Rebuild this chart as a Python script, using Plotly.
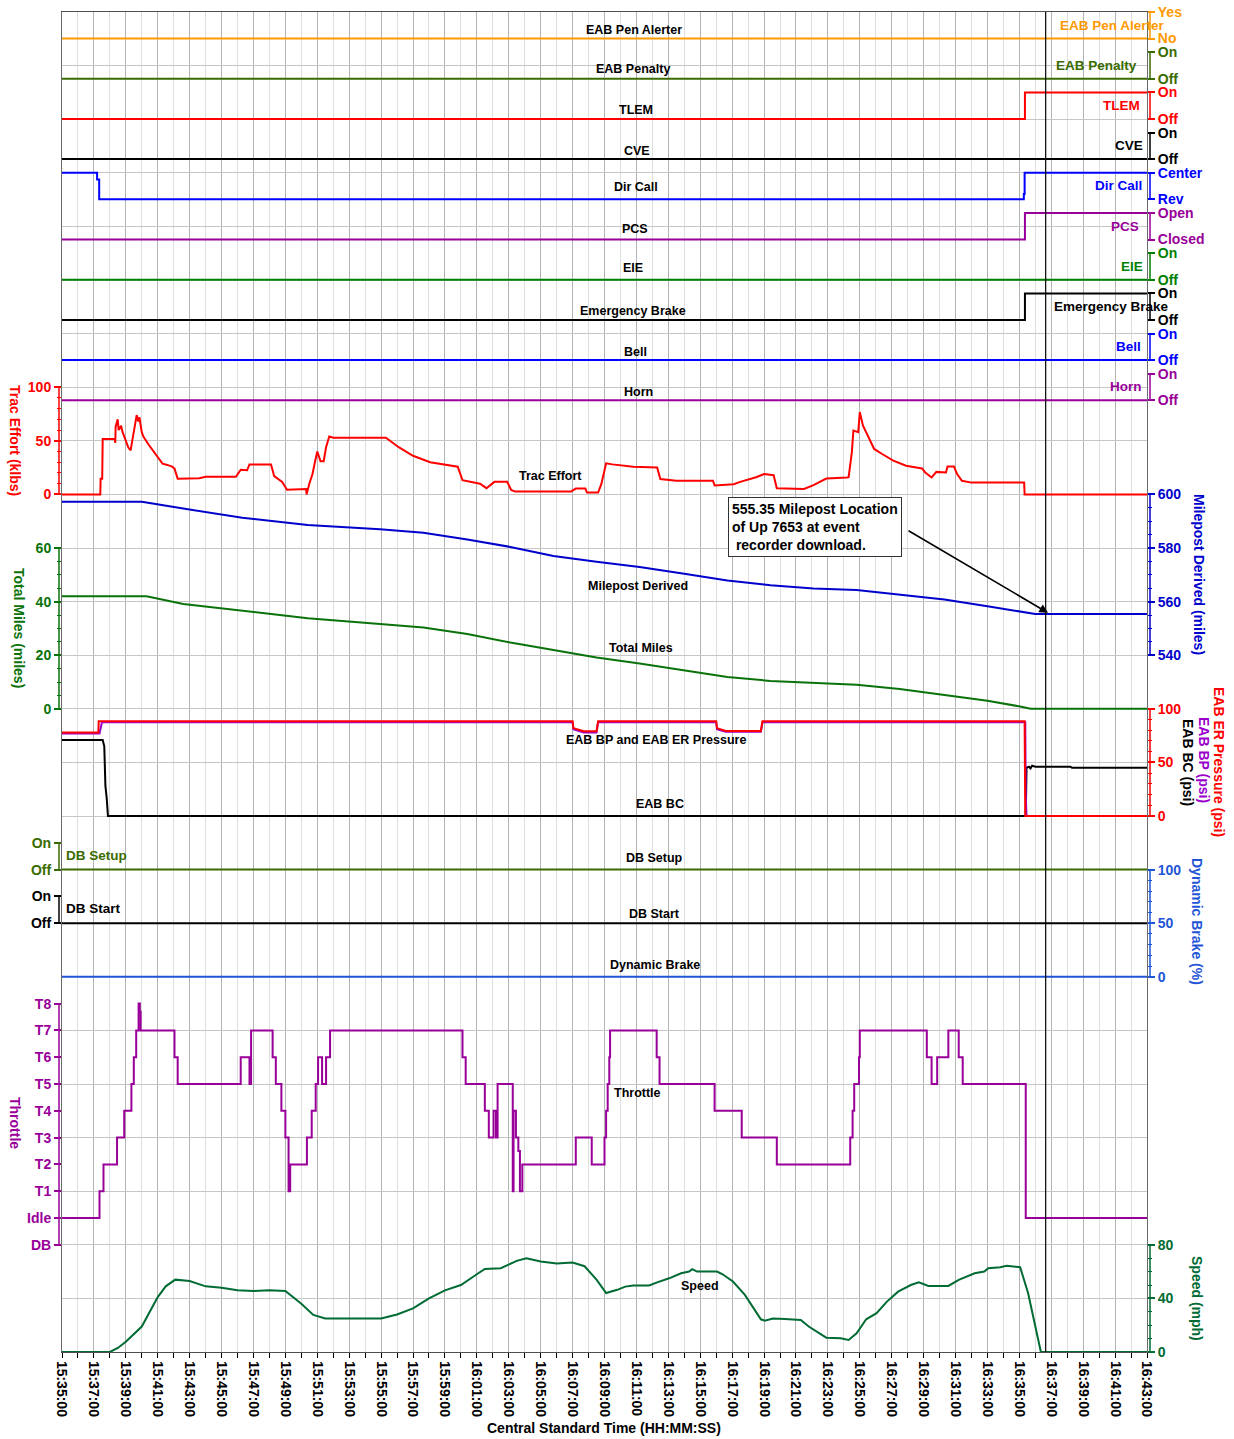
import pandas as pd
import plotly.graph_objects as go

# ---------------- data (times are minutes after 15:35:00 CST) ----------------
START = pd.Timestamp("2024-01-01 15:35:00")
END_MIN = 68
MARKER_MIN = 61.65          # event-recorder download marker line

# digital signals (state 0/1, step after each time)
pen_alerter_t = [0, 68];            pen_alerter_v = [0, 0]
eab_penalty_t = [0, 68];            eab_penalty_v = [0, 0]
tlem_t = [0, 60.35, 68];            tlem_v = [0, 1, 1]
cve_t = [0, 68];                    cve_v = [0, 0]
dircall_t = [0, 2.2, 2.33, 60.28, 60.33, 68]
dircall_v = [1, 0.75, 0, 0.2, 1, 1]
pcs_t = [0, 60.35, 68];             pcs_v = [0, 1, 1]
eie_t = [0, 68];                    eie_v = [0, 0]
ebrake_t = [0, 60.35, 68];          ebrake_v = [0, 1, 1]
bell_t = [0, 68];                   bell_v = [0, 0]
horn_t = [0, 68];                   horn_v = [0, 0]
db_setup_t = [0, 68];               db_setup_v = [0, 0]
db_start_t = [0, 68];               db_start_v = [0, 0]

# Trac effort (klbs)
trac_t = [0, 2.4, 2.42, 2.52, 2.55, 3.3, 3.34, 3.36, 3.49, 3.55,
          3.7, 3.8, 3.95, 4.15, 4.3, 4.45, 4.55, 4.68, 4.78, 4.85,
          5.0, 5.1, 5.4, 5.7, 6.0, 6.3, 6.6, 6.9, 7.05, 7.25,
          8.6, 9.0, 10.9, 11.2, 11.6, 11.75, 13.1, 13.3, 13.8, 14.1,
          15.3, 15.33, 15.5, 15.7, 15.85, 16.0, 16.2, 16.4, 16.55, 16.75,
          17.0, 20.3, 21.1, 22.0, 23.07, 24.1, 24.8, 25.1, 26.2, 26.6,
          27.1, 27.9, 28.15, 28.4, 31.9, 32.2, 32.8, 32.9, 33.6, 33.8,
          34.1, 34.5, 35.8, 37.3, 37.5, 38.5, 40.8, 40.9, 42.1, 42.5,
          43.5, 44.0, 44.6, 44.8, 46.5, 47.1, 47.9, 49.2, 49.3, 49.5,
          49.6, 49.9, 50.0, 50.2, 50.5, 50.9, 51.4, 52.1, 52.9, 53.9,
          54.1, 54.5, 54.8, 55.4, 55.5, 55.9, 56.1, 56.4, 57.0, 60.3,
          60.33, 68]
trac_v = [0, 0, 14.7, 14.7, 51.6, 51.6, 48, 63, 70, 60,
          64, 58, 52, 44, 41, 55, 62, 74, 68, 72,
          58, 54, 47, 41, 34, 28.7, 27.5, 26, 24, 14.7,
          15, 16.5, 16.5, 23, 22.5, 28, 28, 17, 11.6, 4.4,
          5, 0, 10, 19, 30, 40, 31, 31, 44, 54,
          52.8, 52.8, 44, 36, 30, 27.7, 25.8, 13.3, 10, 5.8,
          11.7, 11.7, 4.2, 2.6, 2.6, 5.4, 5.4, 1.7, 1.7, 9.5,
          29, 28, 25.8, 25.2, 14.3, 12.7, 12.7, 8.3, 9.5, 11.7,
          16, 19, 17.9, 5.8, 5.1, 8.6, 14.8, 15.7, 16, 39,
          59.6, 58, 76.8, 64, 55, 42.4, 37.7, 31.5, 26.8, 24.2,
          20.5, 15.8, 21, 20.5, 26, 26, 19, 12.7, 11, 11,
          0, 0]

# Milepost derived (miles)
milepost_t = [0, 5.0, 7.6, 11.3, 15.4, 19.93, 22.65, 25.4, 28.1, 30.8, 33.5,
              36.2, 39.0, 41.7, 44.4, 47.1, 49.8, 52.5, 55.3, 58.0, 60.7, 61.0, 68]
milepost_v = [597.3, 597.3, 594.7, 591.3, 588.6, 587.0, 585.7, 583.2, 580.4, 577.0, 574.9,
              572.9, 570.4, 567.9, 566.1, 564.9, 564.3, 562.7, 560.8, 558.3, 555.4, 555.35, 555.35]

# Total miles
total_t = [0, 5.3, 7.6, 11.3, 15.4, 19.93, 22.65, 25.4, 28.1, 30.8, 33.5,
           36.2, 39.0, 41.7, 44.4, 47.1, 49.8, 52.5, 55.3, 58.0, 60.2, 60.7, 68]
total_v = [42.0, 42.0, 39.1, 36.6, 33.8, 31.6, 30.3, 27.9, 24.7, 21.9, 19.1,
           16.9, 14.4, 11.9, 10.4, 9.6, 9.0, 7.4, 5.2, 3.0, 0.7, 0, 0]

# EAB pressures (psi)
er_t = [0, 2.28, 2.3, 32.0, 32.05, 32.7, 33.5, 33.6, 41.0, 41.05, 41.6, 43.8, 43.9, 60.33, 60.37, 68]
er_v = [78, 78, 88.5, 88.5, 82, 79, 79, 88.5, 88.5, 82, 79.4, 79.4, 88.5, 88.5, 0, 0]
bp_t = [0, 2.35, 2.5, 32.0, 32.05, 32.7, 33.5, 33.6, 41.0, 41.05, 41.6, 43.8, 43.9, 60.37, 60.4, 60.45, 68]
bp_v = [77, 77, 87.5, 87.5, 81, 78, 78, 87.5, 87.5, 81, 78.5, 78.5, 87.5, 87.5, 20, 0, 0]
bc_t = [0, 2.55, 2.65, 2.72, 2.8, 2.88, 60.4, 60.45, 60.6, 60.7, 60.8, 61.0, 63.2, 63.3, 68]
bc_v = [71, 71, 65, 28, 17, 0, 0, 45, 46, 44.5, 47, 46, 46, 45, 45]

# Dynamic brake (%)
dynbrake_t = [0, 68];   dynbrake_v = [0, 0]

# Throttle notch (0=DB, 1=Idle, 2=T1 ... 9=T8), step after each time
throttle_labels = ["DB", "Idle", "T1", "T2", "T3", "T4", "T5", "T6", "T7", "T8"]
throttle_t = [0, 2.35, 2.6, 3.45, 3.9, 4.35, 4.5, 4.65, 4.8, 4.88, 4.93, 7.05, 7.25, 11.2,
              11.75, 11.85, 13.2, 13.4, 13.75, 14.0, 14.2, 14.3, 15.35, 15.65, 15.9, 16.05,
              16.3, 16.55, 16.8, 25.1, 25.3, 26.5, 26.75, 27.05, 27.2, 27.3, 28.25, 28.3,
              28.45, 28.6, 28.7, 28.85, 32.2, 33.2, 34.0, 34.1, 34.2, 34.3, 34.35, 37.27,
              37.45, 40.9, 42.6, 44.8, 49.4, 49.55, 49.65, 49.95, 50.0, 54.2, 54.5, 54.85,
              55.55, 56.2, 56.45, 60.4, 68]
throttle_v = [1, 2, 3, 4, 5, 6, 7, 8, 9, 8.7, 8, 7, 6, 7,
              6, 8, 7, 6, 5, 4, 2, 3, 4, 5, 6, 7,
              6, 7, 8, 7, 6, 5, 4, 5, 4, 6, 2, 5,
              4, 3.5, 2, 3, 4, 3, 4, 5, 6, 7, 8, 7,
              6, 5, 4, 3, 4, 5, 6, 7, 8, 7, 6, 7,
              8, 7, 6, 1, 1]

# Speed (mph)
speed_t = [0, 3.0, 3.5, 4.0, 5.0, 6.0, 6.5, 7.1, 8.0, 9.0,
           10.0, 11.0, 12.0, 13.0, 14.0, 15.0, 15.75, 16.5, 20.0, 21.0,
           22.0, 23.0, 24.0, 25.0, 26.0, 26.5, 27.5, 28.5, 29.1, 30.0,
           31.0, 32.0, 32.75, 33.5, 34.1, 34.8, 35.3, 35.8, 36.8, 37.3,
           38.05, 38.8, 39.3, 39.5, 39.8, 41.05, 41.4, 42.05, 42.8, 43.4,
           43.8, 44.05, 44.55, 45.3, 46.3, 46.8, 47.3, 47.9, 48.8, 49.3,
           49.8, 50.4, 51.05, 51.7, 52.4, 53.2, 53.7, 54.3, 55.55, 56.2,
           57.2, 57.8, 58.05, 58.8, 59.2, 60.05, 60.55, 60.9, 61.35, 68]
speed_v = [0, 0, 3, 7.7, 19, 41, 49, 54, 53, 49,
           48, 46, 45.6, 46, 45.6, 36, 27.7, 25, 25, 28,
           32.6, 40, 46, 50, 58, 62, 62.5, 68, 70, 67.5,
           66, 66.8, 64, 54, 44, 46.4, 48.8, 49.6, 49.6, 52,
           55, 58.8, 60, 61.8, 60, 60, 58, 52.6, 42.6, 31.9,
           24.4, 23.4, 25, 24.7, 23.9, 19, 15.2, 10.7, 10.2, 9,
           14, 24.4, 29, 37.6, 45, 50, 52, 49.3, 49.3, 53.8,
           58.8, 60, 62.5, 63.3, 64.3, 63.3, 43.9, 25, 0, 0]

milepost_note = "555.35 Milepost Location<br>of Up 7653 at event<br> recorder download."
note_target_min = 61.8
note_target_mp = 555.8

# ---------------- layout helpers ----------------
FONT = "Liberation Sans, Arial, sans-serif"
W, H = 1234, 1439
L, R, T, B = 62, 87, 12, 87
PW, PH = W - L - R, H - T - B
GRID = PH / 25.0

ORANGE = "#FF9900"; OLIVE = "#3A6B00"; RED = "#FF0000"; BLUE = "#0000FF"
PURPLE = "#990099"; GREEN = "#008000"; MPBLUE = "#0000CC"; TMGREEN = "#0A720A"
BPPURPLE = "#9900CC"; DBBLUE = "#1F55D6"; SPGREEN = "#006B33"


def fx(p):
    return (p - L) / PW


def fy(p):
    return (T + PH - p) / PH


def gy(i):
    return T + i * GRID


def rng(v_a, p_a, v_b, p_b):
    k = (v_b - v_a) / (p_b - p_a)
    return [v_a + (T + PH - p_a) * k, v_a + (T - p_a) * k]


def tx(mins):
    return [START + pd.Timedelta(minutes=float(m)) for m in mins]


fig = go.Figure()
shapes, annotations, axes = [], [], {}

# base subplot (grid carrier) needs a trace so that overlaying axes have a main plot
fig.add_trace(go.Scatter(x=tx([0]), y=[None], xaxis="x", yaxis="y", mode="lines",
                         hoverinfo="skip", showlegend=False))


def make_axis(r, side, color, tickvals, ticktext=None, minor=None):
    d = dict(overlaying="y", anchor="x", side=side, range=r, showgrid=False, zeroline=False,
             showline=False, tickmode="array", tickvals=tickvals, ticks="outside", ticklen=7,
             tickwidth=1.5, tickcolor=color, automargin=False, fixedrange=True,
             tickfont=dict(family=FONT, size=14, color=color, weight="bold"))
    if ticktext is not None:
        d["ticktext"] = ticktext
    if minor is not None:
        d["minor"] = dict(tickmode="array", tickvals=minor, ticks="outside", ticklen=4,
                          tickwidth=1.2, tickcolor=color, showgrid=False)
    return d


def seg(side, p_top, p_bot, color):
    x = fx(1150) if side == "right" else fx(59)
    shapes.append(dict(type="line", xref="paper", yref="paper", x0=x, x1=x,
                       y0=fy(p_top), y1=fy(p_bot), line=dict(color=color, width=1.5)))


def label(text, px, py, color="black", size=12.5, xanchor="center", angle=0):
    annotations.append(dict(text=text, xref="paper", yref="paper", x=fx(px), y=fy(py),
                            xanchor=xanchor, yanchor="middle", showarrow=False, textangle=angle,
                            font=dict(family=FONT, size=size, color=color, weight="bold")))


def line_trace(t, v, yid, color, shape="linear", width=2):
    fig.add_trace(go.Scatter(x=tx(t), y=v, yaxis=yid, mode="lines",
                             line=dict(color=color, width=width, shape=shape),
                             hoverinfo="skip", showlegend=False))


# ---------------- digital panels (top) ----------------
digital = [
    ("EAB Pen Alerter", ORANGE, ["No", "Yes"], pen_alerter_t, pen_alerter_v, 634, 30, ("left", 1058)),
    ("EAB Penalty", OLIVE, ["Off", "On"], eab_penalty_t, eab_penalty_v, 633, 69, ("right", 1139)),
    ("TLEM", RED, ["Off", "On"], tlem_t, tlem_v, 636, 110, ("right", 1142)),
    ("CVE", "black", ["Off", "On"], cve_t, cve_v, 637, 151, ("right", 1145)),
    ("Dir Call", BLUE, ["Rev", "Center"], dircall_t, dircall_v, 636, 187, ("right", 1144)),
    ("PCS", PURPLE, ["Closed", "Open"], pcs_t, pcs_v, 635, 229, ("right", 1141)),
    ("EIE", GREEN, ["Off", "On"], eie_t, eie_v, 633, 268, ("right", 1145)),
    ("Emergency Brake", "black", ["Off", "On"], ebrake_t, ebrake_v, 633, 311, ("left", 1052)),
    ("Bell", BLUE, ["Off", "On"], bell_t, bell_v, 635, 352, ("right", 1143)),
    ("Horn", PURPLE, ["Off", "On"], horn_t, horn_v, 638, 392, ("right", 1144)),
]
for i, (name, color, ttext, t, v, cx, cy, (anc, rx)) in enumerate(digital):
    on_p = 12 + 40.2 * i
    off_p = on_p + 26.5
    yid = 2 + i
    axes[f"yaxis{yid}"] = make_axis(rng(0, off_p, 1, on_p), "right", color, [0, 1], ttext)
    seg("right", on_p, off_p, color)
    line_trace(t, v, f"y{yid}", color, shape="hv")
    label(name, cx, cy)
    label(name, rx, on_p + 13, color=color, size=13.5, xanchor=anc)

# ---------------- Trac effort ----------------
axes["yaxis12"] = make_axis(rng(0, gy(9), 100, gy(7)), "left", RED, [0, 50, 100],
                            minor=[10, 20, 30, 40, 60, 70, 80, 90])
seg("left", gy(7), gy(9), RED)
line_trace(trac_t, trac_v, "y12", RED)
label("Trac Effort", 550, 476)
label("Trac Effort (klbs)", 15, 440, color=RED, size=14, angle=90)

# ---------------- Milepost derived ----------------
axes["yaxis13"] = make_axis(rng(540, gy(12), 600, gy(9)), "right", MPBLUE, [540, 560, 580, 600],
                            minor=[545, 550, 555, 565, 570, 575, 585, 590, 595])
seg("right", gy(9), gy(12), MPBLUE)
line_trace(milepost_t, milepost_v, "y13", MPBLUE)
label("Milepost Derived", 638, 586)
label("Milepost Derived (miles)", 1199, 574, color=MPBLUE, size=14, angle=90)

# ---------------- Total miles ----------------
axes["yaxis14"] = make_axis(rng(0, gy(13), 60, gy(10)), "left", TMGREEN, [0, 20, 40, 60],
                            minor=[5, 10, 15, 25, 30, 35, 45, 50, 55])
seg("left", gy(10), gy(13), TMGREEN)
line_trace(total_t, total_v, "y14", TMGREEN)
label("Total Miles", 641, 648)
label("Total Miles (miles)", 19, 628, color=TMGREEN, size=14, angle=90)

# ---------------- EAB pressures ----------------
axes["yaxis15"] = make_axis(rng(0, gy(15), 100, gy(13)), "right", RED, [0, 50, 100],
                            minor=[10, 20, 30, 40, 60, 70, 80, 90])
seg("right", gy(13), gy(15), RED)
line_trace(bc_t, bc_v, "y15", "black")
line_trace(bp_t, bp_v, "y15", BPPURPLE)
line_trace(er_t, er_v, "y15", RED)
label("EAB BP and EAB ER Pressure", 656, 740)
label("EAB BC", 660, 804)
label("EAB ER Pressure (psi)", 1219, 762, color=RED, size=14, angle=90)
label("EAB BP (psi)", 1204, 760, color=BPPURPLE, size=14, angle=90)
label("EAB BC (psi)", 1188, 762, color="black", size=14, angle=90)

# ---------------- DB Setup / DB Start (left digital) ----------------
for yid, name, color, t, v, k, cy, ly in [(16, "DB Setup", OLIVE, db_setup_t, db_setup_v, 16, 858, 855),
                                          (17, "DB Start", "black", db_start_t, db_start_v, 17, 914, 908)]:
    off_p = gy(k)
    on_p = off_p - GRID / 2
    axes[f"yaxis{yid}"] = make_axis(rng(0, off_p, 1, on_p), "left", color, [0, 1], ["Off", "On"])
    seg("left", on_p, off_p, color)
    line_trace(t, v, f"y{yid}", color, shape="hv")
    label(name, 654, cy)
    label(name, 64, ly, color=color, size=13.5, xanchor="left")

# ---------------- Dynamic brake ----------------
axes["yaxis18"] = make_axis(rng(0, gy(18), 100, gy(16)), "right", DBBLUE, [0, 50, 100],
                            minor=[10, 20, 30, 40, 60, 70, 80, 90])
seg("right", gy(16), gy(18), DBBLUE)
line_trace(dynbrake_t, dynbrake_v, "y18", DBBLUE)
label("Dynamic Brake", 655, 965)
label("Dynamic Brake (%)", 1197, 921, color=DBBLUE, size=14, angle=90)

# ---------------- Throttle ----------------
axes["yaxis19"] = make_axis(rng(0, gy(23), 8, gy(19)), "left", PURPLE,
                            list(range(len(throttle_labels))), throttle_labels)
seg("left", gy(23) - 9 * GRID / 2, gy(23), PURPLE)
line_trace(throttle_t, throttle_v, "y19", PURPLE, shape="hv")
label("Throttle", 637, 1093)
label("Throttle", 15, 1123, color=PURPLE, size=14, angle=90)

# ---------------- Speed ----------------
axes["yaxis20"] = make_axis(rng(0, gy(25), 80, gy(23)), "right", SPGREEN, [0, 40, 80],
                            minor=[10, 20, 30, 50, 60, 70])
seg("right", gy(23), gy(25), SPGREEN)
line_trace(speed_t, speed_v, "y20", SPGREEN)
label("Speed", 700, 1286)
label("Speed (mph)", 1197, 1298, color=SPGREEN, size=14, angle=90)

# ---------------- marker, note, x title ----------------
shapes.append(dict(type="line", xref="x", yref="paper", x0=tx([MARKER_MIN])[0], x1=tx([MARKER_MIN])[0],
                   y0=0, y1=1, line=dict(color="black", width=1.2), layer="above"))
annotations.append(dict(text=milepost_note, xref="paper", yref="paper", x=fx(815), y=fy(527),
                        xanchor="center", yanchor="middle", align="left", showarrow=False,
                        bgcolor="white", bordercolor="#333333", borderwidth=1, borderpad=3,
                        font=dict(family=FONT, size=14, color="black", weight="bold")))
annotations.append(dict(text="", x=tx([note_target_min])[0], y=note_target_mp, xref="x", yref="y13",
                        showarrow=True, ax=-141, ay=-83, arrowhead=2, arrowsize=1.1, arrowwidth=1.6,
                        arrowcolor="black"))
label("Central Standard Time (HH:MM:SS)", 604, 1428, size=14)

fig.update_layout(
    width=W, height=H,
    margin=dict(l=L, r=R, t=T, b=B, autoexpand=False),
    paper_bgcolor="white", plot_bgcolor="white",
    showlegend=False, hovermode=False,
    font=dict(family=FONT, size=13, color="black"),
    xaxis=dict(type="date", range=tx([0, END_MIN]), tickformat="%H:%M:%S",
               tick0=tx([0])[0], dtick=120000, tickangle=90, ticks="outside", ticklen=5,
               tickcolor="black", tickwidth=1.2, showgrid=True, gridcolor="#b4b4b4", gridwidth=1,
               minor=dict(tick0=tx([0])[0], dtick=60000, ticks="outside", ticklen=5,
                          tickcolor="black", showgrid=True, gridcolor="#dedede"),
               showline=True, linecolor="#505050", linewidth=1.2, mirror=True, zeroline=False,
               automargin=False, fixedrange=True,
               tickfont=dict(family=FONT, size=14, color="black", weight="bold")),
    yaxis=dict(range=[0, 25], tick0=0, dtick=1, showgrid=True, gridcolor="#c6c6c6", gridwidth=1,
               showticklabels=False, ticks="", showline=True, mirror=True, linecolor="#6a6a6a",
               linewidth=1.2, zeroline=False, automargin=False, fixedrange=True),
    shapes=shapes, annotations=annotations,
    **axes,
)

fig.write_html("out.html")
